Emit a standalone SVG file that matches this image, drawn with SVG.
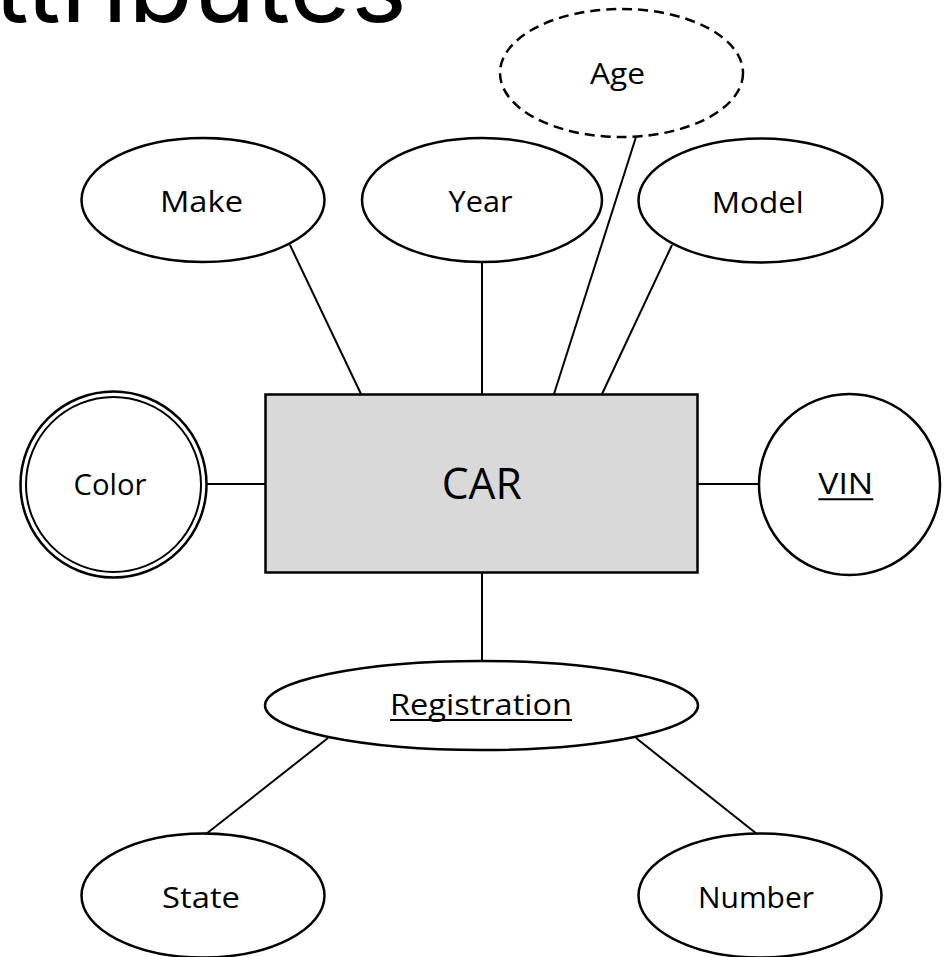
<svg xmlns="http://www.w3.org/2000/svg" width="948" height="957" viewBox="0 0 948 957">
<style>
.attr{fill:#fff;stroke:#000;stroke-width:2.5}
.dash{stroke-dasharray:10 6}
.ent{fill:#d9d9d9;stroke:#000;stroke-width:2.5}
.conn line{stroke:#000;stroke-width:2}
.lbl{font-family:"Open Sans","Liberation Sans",sans-serif;font-size:30px;fill:#000;text-anchor:middle}
.big{font-size:43px}
.ul{stroke:#000;stroke-width:2}
.title{font-family:"Inter","Liberation Sans",sans-serif;font-size:100px;fill:#000}
</style>
<rect width="948" height="957" fill="#fff"/>
<text class="title" x="-6" y="21.5" textLength="413" lengthAdjust="spacingAndGlyphs">ttributes</text>
<g id="connectors" class="conn">
<line x1="290" y1="245" x2="361" y2="394"/>
<line x1="482" y1="262" x2="482" y2="394"/>
<line x1="636" y1="137" x2="554" y2="394"/>
<line x1="672" y1="245" x2="602" y2="394"/>
<line x1="207" y1="484" x2="265" y2="484"/>
<line x1="697" y1="484" x2="759" y2="484"/>
<line x1="482" y1="572" x2="482" y2="661"/>
<line x1="328" y1="738" x2="206" y2="834"/>
<line x1="636" y1="738" x2="757" y2="834"/>
</g>
<g id="age">
<ellipse class="attr dash" cx="621.5" cy="73" rx="121.5" ry="64"/>
<text class="lbl" x="617.5" y="83.5" textLength="55" lengthAdjust="spacingAndGlyphs">Age</text>
</g>
<g id="make">
<ellipse class="attr" cx="203" cy="200" rx="121.5" ry="62"/>
<text class="lbl" x="201.5" y="211.7" textLength="83" lengthAdjust="spacingAndGlyphs">Make</text>
</g>
<g id="year">
<ellipse class="attr" cx="482" cy="200" rx="120" ry="62"/>
<text class="lbl" x="480.5" y="211.7" textLength="64" lengthAdjust="spacingAndGlyphs">Year</text>
</g>
<g id="model">
<ellipse class="attr" cx="760.5" cy="200.5" rx="122" ry="62"/>
<text class="lbl" x="757.8" y="212.5" textLength="92" lengthAdjust="spacingAndGlyphs">Model</text>
</g>
<g id="car">
<rect class="ent" x="265.5" y="394.5" width="432" height="178"/>
<text class="lbl big" x="481.7" y="499.3" textLength="80" lengthAdjust="spacingAndGlyphs">CAR</text>
</g>
<g id="color">
<ellipse class="attr" cx="113.5" cy="484.5" rx="93" ry="93"/>
<ellipse fill="none" stroke="#000" stroke-width="2" cx="113.5" cy="484.5" rx="87.5" ry="87.5"/>
<text class="lbl" x="110" y="495" textLength="73" lengthAdjust="spacingAndGlyphs">Color</text>
</g>
<g id="vin">
<ellipse class="attr" cx="849.5" cy="484.5" rx="90.5" ry="90.5"/>
<text class="lbl" x="845.8" y="494" textLength="55" lengthAdjust="spacingAndGlyphs">VIN</text>
<line class="ul" x1="818.3" y1="499.3" x2="873.3" y2="499.3"/>
</g>
<g id="registration">
<ellipse class="attr" cx="481.5" cy="705.5" rx="216.5" ry="44.5"/>
<text class="lbl" x="481" y="715" textLength="182" lengthAdjust="spacingAndGlyphs">Registration</text>
<line class="ul" x1="390" y1="720" x2="572" y2="720"/>
</g>
<g id="state">
<ellipse class="attr" cx="203" cy="895.5" rx="121.5" ry="62"/>
<text class="lbl" x="201" y="907.5" textLength="78" lengthAdjust="spacingAndGlyphs">State</text>
</g>
<g id="number">
<ellipse class="attr" cx="760" cy="895.5" rx="121.5" ry="62"/>
<text class="lbl" x="756" y="907.5" textLength="116" lengthAdjust="spacingAndGlyphs">Number</text>
</g>
</svg>
